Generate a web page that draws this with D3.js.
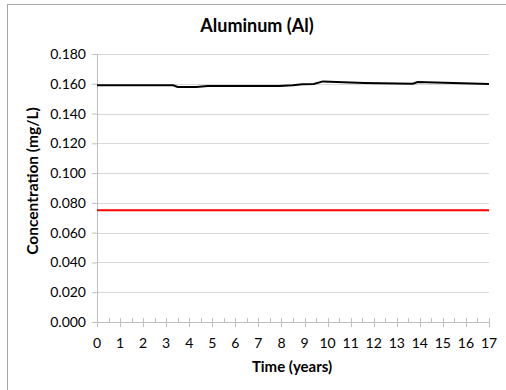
<!DOCTYPE html>
<html>
<head>
<meta charset="utf-8">
<script src="https://cdn.jsdelivr.net/npm/d3@7"></script>
<style>
  body { margin: 0; background: #fff; }
  text { font-family: Lato, "Open Sans", sans-serif; fill: #000; }
</style>
</head>
<body>
<div class="box"></div>
<script>
// DATA
const years = [0, 3.3, 3.5, 4.3, 4.8, 7.9, 8.5, 8.9, 9.4, 9.8, 11.6, 13.7, 13.9, 17];
const aluminum = [0.159, 0.159, 0.1578, 0.1578, 0.1585, 0.1585, 0.159, 0.1597, 0.1598, 0.1616, 0.1606, 0.160, 0.1612, 0.1598];
const limitYears = [0, 17];
const limitValues = [0.075, 0.075];
const yTicks = [0, 0.02, 0.04, 0.06, 0.08, 0.1, 0.12, 0.14, 0.16, 0.18];
const xTicks = d3.range(0, 18);

// SETUP
const svg = d3.select('.box')
  .append('svg')
  .attr('width', 506)
  .attr('height', 390);

// chart border (runs off the picture at right and bottom)
svg.append('rect')
  .attr('x', 7.5).attr('y', 4.5)
  .attr('width', 600).attr('height', 500)
  .attr('fill', 'none')
  .attr('stroke', '#a6a6a6');

const margin = {top: 54, left: 97};
const w = 392, h = 268;

const graph = svg.append('g')
  .attr('transform', `translate(${margin.left}, ${margin.top})`);

const x = d3.scaleLinear().domain([0, 17]).range([0, w]);
const y = d3.scaleLinear().domain([0, 0.18]).range([h, 0]);

// gridlines
graph.selectAll('.grid')
  .data(yTicks.slice(1))
  .enter().append('line')
  .attr('x1', 0).attr('x2', w)
  .attr('y1', d => Math.round(y(d)) + 0.5)
  .attr('y2', d => Math.round(y(d)) + 0.5)
  .attr('stroke', '#d9d9d9');

// y axis
const axeY = d3.axisLeft(y)
  .tickValues(yTicks)
  .tickFormat(d3.format('.3f'))
  .tickSize(5)
  .tickPadding(6);
const gY = graph.append('g').call(axeY);
gY.select('.domain').attr('stroke', '#bfbfbf').attr('d', `M0.5,0V${h}`);
gY.selectAll('.tick line').attr('stroke', '#bfbfbf');
gY.selectAll('.tick text').style('font-size', '14px').style('font-family', 'Lato, sans-serif');

// x axis, major + minor ticks
const gX = graph.append('g').attr('transform', `translate(0, ${h})`);
gX.append('line')
  .attr('x1', 0).attr('x2', w)
  .attr('y1', 0.5).attr('y2', 0.5)
  .attr('stroke', '#bfbfbf');
gX.selectAll('.minor')
  .data(xTicks.slice(0, -1).map(d => d + 0.5))
  .enter().append('line')
  .attr('x1', d => Math.round(x(d)) + 0.5)
  .attr('x2', d => Math.round(x(d)) + 0.5)
  .attr('y1', -4).attr('y2', 0)
  .attr('stroke', '#bfbfbf');
gX.selectAll('.major')
  .data(xTicks)
  .enter().append('line')
  .attr('x1', d => Math.round(x(d)) + 0.5)
  .attr('x2', d => Math.round(x(d)) + 0.5)
  .attr('y1', -4).attr('y2', 5)
  .attr('stroke', '#bfbfbf');
gX.selectAll('.lbl')
  .data(xTicks)
  .enter().append('text')
  .attr('x', d => x(d))
  .attr('y', 26)
  .attr('text-anchor', 'middle')
  .style('font-size', '14px')
  .text(d => d);

// lines
const line = d3.line()
  .x(d => x(d[0]))
  .y(d => y(d[1]));

graph.append('path')
  .datum(limitYears.map((t, i) => [t, limitValues[i]]))
  .attr('d', line)
  .attr('fill', 'none')
  .attr('stroke', '#ff0000')
  .attr('stroke-width', 2);

graph.append('path')
  .datum(years.map((t, i) => [t, aluminum[i]]))
  .attr('d', line)
  .attr('fill', 'none')
  .attr('stroke', '#000')
  .attr('stroke-width', 2);

// titles
svg.append('text')
  .attr('x', 257).attr('y', 32)
  .attr('text-anchor', 'middle')
  .style('font-size', '18px').style('font-weight', 'bold')
  .text('Aluminum (Al)');

svg.append('text')
  .attr('x', 292).attr('y', 372)
  .attr('text-anchor', 'middle')
  .style('font-size', '15px').style('font-weight', 'bold')
  .text('Time (years)');

svg.append('text')
  .attr('transform', 'translate(38, 181) rotate(-90)')
  .attr('text-anchor', 'middle')
  .style('font-size', '15.5px').style('font-weight', 'bold')
  .text('Concentration (mg/L)');
</script>
</body>
</html>
